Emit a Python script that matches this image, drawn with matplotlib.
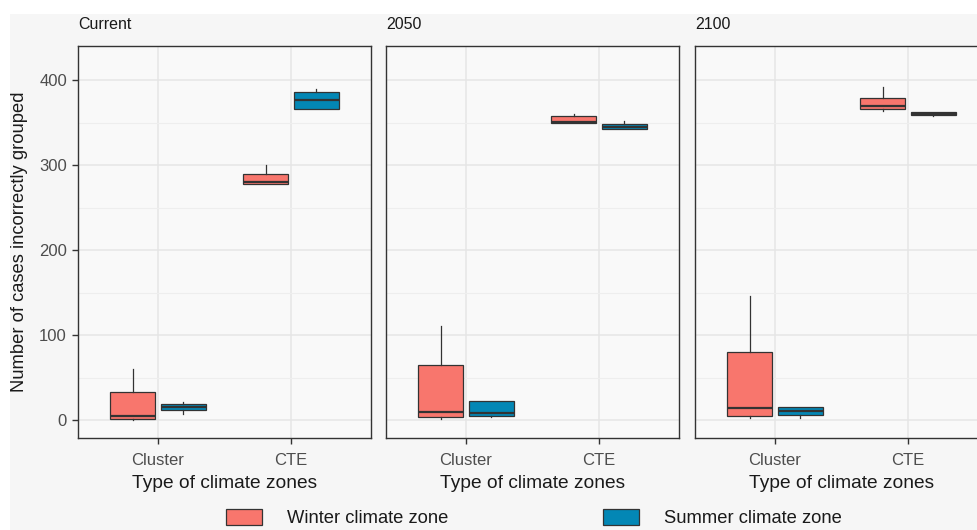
import numpy as np
import matplotlib.pyplot as plt
from matplotlib.patches import Patch, Rectangle

plt.rcParams['font.family'] = ['Liberation Sans', 'DejaVu Sans']

# ------------------------------
# data: box statistics per period (Cluster, CTE)
# ------------------------------
periods = ["Current", "2050", "2100"]
zone_types = ["Cluster", "CTE"]
seasons = ["Winter climate zone", "Summer climate zone"]
season_colors = ["#F8766D", "#0387B5"]

# winter
winter_med = [[5, 280], [9, 351], [14, 369]]
winter_q1 = [[1, 278], [4, 349], [5, 366]]
winter_q3 = [[33, 289], [65, 358], [80, 379]]
winter_lo = [[0, 278], [1, 349], [3, 363]]
winter_hi = [[60, 300], [111, 360], [146, 392]]

# summer
summer_med = [[15, 376], [8, 345], [11, 360]]
summer_q1 = [[12, 366], [5, 342], [6, 359]]
summer_q3 = [[19, 386], [23, 348], [15, 362]]
summer_lo = [[7, 366], [4, 342], [3, 358]]
summer_hi = [[21, 389], [23, 352], [16, 362]]

winter = dict(med=winter_med, q1=winter_q1, q3=winter_q3, lo=winter_lo, hi=winter_hi)
summer = dict(med=summer_med, q1=summer_q1, q3=summer_q3, lo=summer_lo, hi=summer_hi)

def box_stats(d, p):
    stats = []
    for j in range(len(zone_types)):
        stats.append({
            'med': d['med'][p][j], 'q1': d['q1'][p][j], 'q3': d['q3'][p][j],
            'whislo': d['lo'][p][j], 'whishi': d['hi'][p][j], 'fliers': [],
        })
    return stats

fig = plt.figure(figsize=(9.77, 5.3), dpi=100, facecolor='#F6F6F6')
W, H = 977.0, 530.0
# white strip around top/left edge
fig.patches.append(Rectangle((0, 1 - 14 / H), 1, 14 / H, transform=fig.transFigure,
                             facecolor='white', edgecolor='none', zorder=-1))
fig.patches.append(Rectangle((0, 0), 10 / W, 1, transform=fig.transFigure,
                             facecolor='white', edgecolor='none', zorder=-1))

panel_left = [78, 386, 695]
panel_w = 293
bottom = 1 - 438 / H
height = (438 - 46) / H

gray_txt = '#4D4D4D'
edge = '#333333'
offset = 0.19
bw = 0.34

axes = []
for p, period in enumerate(periods):
    ax = fig.add_axes([panel_left[p] / W, bottom, panel_w / W, height])
    ax.set_facecolor('#F9F9F9')
    x = np.arange(1, len(zone_types) + 1)
    for s, (d, col, dx) in enumerate([(winter, season_colors[0], -offset),
                                      (summer, season_colors[1], offset)]):
        ax.bxp(box_stats(d, p), positions=x + dx, widths=bw, showcaps=False,
               showfliers=False, patch_artist=True,
               boxprops=dict(facecolor=col, edgecolor=edge, linewidth=0.9),
               medianprops=dict(color=edge, linewidth=1.6),
               whiskerprops=dict(color=edge, linewidth=0.9),
               zorder=3)
    ax.set_xlim(0.4, 2.6)
    ax.set_ylim(-21, 440)
    ax.set_xticks(x)
    ax.set_xticklabels(zone_types)
    ax.set_yticks([0, 100, 200, 300, 400])
    ax.set_yticks([50, 150, 250, 350], minor=True)
    ax.grid(True, which='major', color='#E6E6E6', linewidth=1.1, zorder=0)
    ax.grid(True, which='minor', axis='y', color='#EEEEEE', linewidth=0.8, zorder=0)
    ax.tick_params(axis='both', which='major', length=4, width=1, color=edge,
                   labelsize=12, labelcolor=gray_txt)
    ax.tick_params(axis='x', which='major', pad=7)
    ax.tick_params(axis='y', which='major', pad=4)
    ax.tick_params(axis='y', which='minor', length=0)
    if p > 0:
        ax.tick_params(axis='y', which='major', length=0, labelleft=False)
    for sp in ax.spines.values():
        sp.set_color(edge)
        sp.set_linewidth(1.0)
    ax.set_xlabel("Type of climate zones", fontsize=13.8, color='#1A1A1A', labelpad=5)
    ax.text(0, 1.035, period, transform=ax.transAxes, ha='left', va='bottom',
            fontsize=11.5, color='#1A1A1A')
    axes.append(ax)

axes[0].set_ylabel("Number of cases incorrectly grouped", fontsize=13.2,
                   color='#1A1A1A', labelpad=8)

handles = [Patch(facecolor=season_colors[i], edgecolor=edge, linewidth=0.9)
           for i in range(len(seasons))]
fig.legend(handles, seasons, loc='upper left', bbox_to_anchor=(226 / W, 1 - 509 / H),
           ncol=2, frameon=False, fontsize=13.2, handlelength=1.95, handleheight=1.0,
           handletextpad=1.4, columnspacing=8.4, borderaxespad=0, borderpad=0,
           labelcolor='#1A1A1A')

fig.savefig('out.png', dpi=100, facecolor=fig.get_facecolor())
